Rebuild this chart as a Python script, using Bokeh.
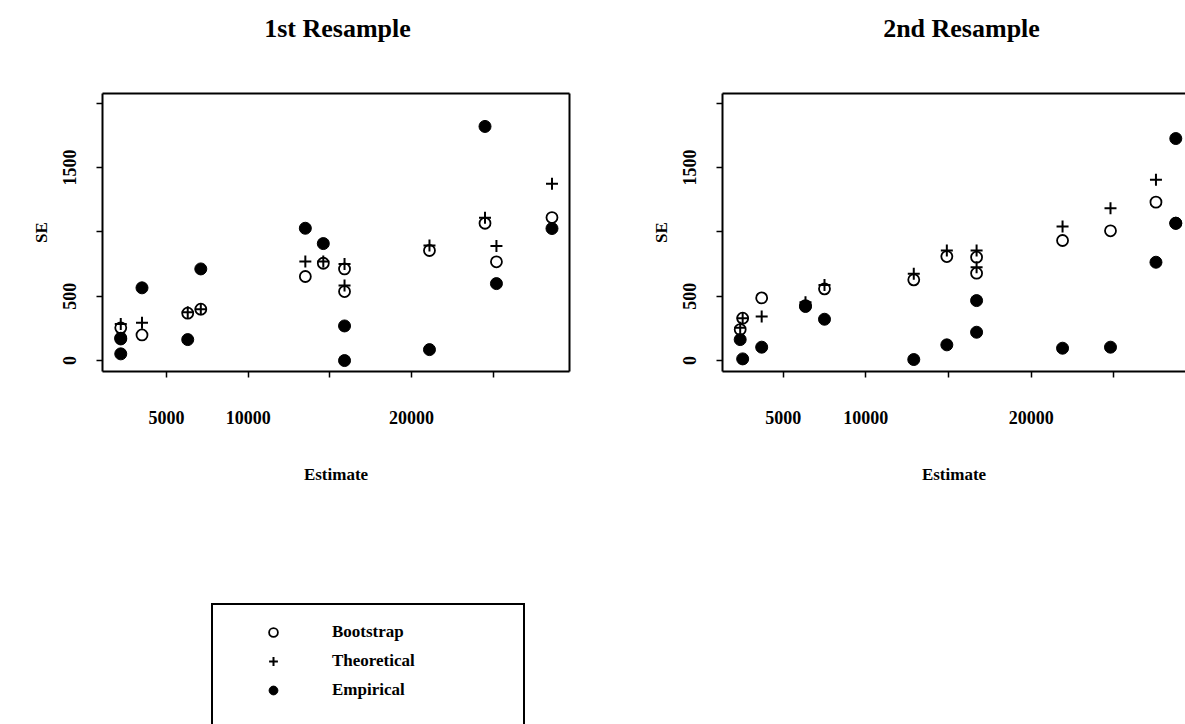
import numpy as np
from bokeh.plotting import figure
from bokeh.models import Range1d, FixedTicker, LinearAxis, Legend, LegendItem, ColumnDataSource, Label
from bokeh.layouts import column, row
from bokeh.embed import file_html
from bokeh.resources import INLINE

FONT = "Liberation Serif"

# ---------------- data ----------------
titles = ["1st Resample", "2nd Resample"]
x_label = "Estimate"
y_label = "SE"
series_names = ["Bootstrap", "Theoretical", "Empirical"]

x_ticks = [5000, 10000, 15000, 20000, 25000]
x_tick_labels = ["5000", "10000", "", "20000", ""]
y_ticks = [0, 500, 1000, 1500, 2000]
y_tick_labels = ["0", "500", "", "1500", ""]

# 1st resample: estimate and standard errors of each item
r1_estimate = [2200, 2200, 3500, 6300, 7100, 13500, 14600, 15900, 15900, 21100, 24500, 25200, 28600]
r1_bootstrap = [254, 175, 199, 368, 399, 653, 756, 712, 536, 855, 1067, 767, 1111]
r1_theoretical = [285, 175, 293, 376, 399, 769, 770, 751, 583, 894, 1109, 891, 1373]
r1_empirical = [52, 168, 565, 163, 712, 1028, 909, 269, 0, 85, 1819, 598, 1026]

# 2nd resample
r2_estimate = [2400, 2550, 3700, 6350, 7500, 12900, 14900, 16700, 16700, 21900, 24800, 27550, 28750, 28750]
r2_bootstrap = [241, 329, 487, 427, 557, 627, 808, 803, 679, 933, 1008, 1231, 1067, None]
r2_theoretical = [254, 329, 342, 453, 588, 674, 855, 855, 725, 1041, 1184, 1404, 1067, None]
r2_empirical = [163, 13, 104, 420, 321, 8, 122, 466, 220, 96, 104, 764, 1067, 1725]


def arr(v):
    return np.array([np.nan if a is None else a for a in v], dtype=float)


def blank_fig(width, height):
    f = figure(width=width, height=height, x_range=Range1d(0, 1), y_range=Range1d(0, 1),
               x_axis_type=None, y_axis_type=None, output_backend="svg", toolbar_location=None,
               min_border=0)
    f.outline_line_color = None
    f.grid.visible = False
    f.background_fill_color = "white"
    f.border_fill_color = "white"
    return f


def style_axis(ax, ticks, labels, orient, tick_standoff, label_standoff, label=None):
    ax.ticker = FixedTicker(ticks=ticks)
    ax.major_label_overrides = {t: l for t, l in zip(ticks, labels)}
    ax.major_label_text_font = FONT
    ax.major_label_text_font_style = "bold"
    ax.major_label_text_font_size = "18px"
    ax.major_label_text_color = "black"
    ax.major_label_standoff = tick_standoff
    ax.major_label_orientation = orient
    ax.axis_line_width = 2
    ax.axis_line_color = "black"
    ax.major_tick_line_width = 1.5
    ax.major_tick_line_color = "black"
    ax.major_tick_in = 0
    ax.major_tick_out = 6
    ax.minor_tick_line_color = None
    if label is not None:
        ax.axis_label = label
        ax.axis_label_text_font = FONT
        ax.axis_label_text_font_style = "bold"
        ax.axis_label_text_font_size = "17px"
        ax.axis_label_text_color = "black"
        ax.axis_label_standoff = label_standoff


def blank_axis(p, side):
    ax = LinearAxis(ticker=FixedTicker(ticks=[]), major_tick_out=0, major_tick_in=0,
                    minor_tick_out=0, minor_tick_in=0, major_label_text_font_size="0px",
                    major_label_standoff=0,
                    axis_line_width=2, axis_line_color="black")
    p.add_layout(ax, side)


def make_plot(est, boot, theo, emp, xr, width, mb_right, right_line):
    p = figure(width=width, height=440, x_range=Range1d(*xr), y_range=Range1d(-85, 2075),
               output_backend="svg", toolbar_location=None,
               min_border_left=102, min_border_right=mb_right, min_border_top=33, min_border_bottom=129)
    p.outline_line_color = None
    p.grid.visible = False
    p.background_fill_color = "white"
    p.border_fill_color = "white"
    style_axis(p.xaxis[0], x_ticks, x_tick_labels, "horizontal", 33, 38, x_label)
    style_axis(p.yaxis[0], y_ticks, y_tick_labels, "vertical", 20, 10, y_label)
    blank_axis(p, "above")
    if right_line:
        blank_axis(p, "right")
    src = ColumnDataSource(dict(x=est, b=arr(boot), t=arr(theo), e=arr(emp)))
    p.scatter("x", "b", source=src, marker="circle", size=11, fill_color=None,
              line_color="black", line_width=1.8)
    p.scatter("x", "t", source=src, marker="cross", size=12, line_color="black", line_width=2)
    p.scatter("x", "e", source=src, marker="circle", size=12, fill_color="black",
              line_color="black", line_width=1)
    return p


# title strip
p0 = blank_fig(1185, 60)
for t, tx in zip(titles, [337, 961]):
    p0.add_layout(Label(x=tx, y=32, x_units="screen", y_units="screen", text=t,
                        text_align="center", text_baseline="middle", text_font=FONT,
                        text_font_style="bold", text_font_size="26px", text_color="black"))

p1 = make_plot(r1_estimate, r1_bootstrap, r1_theoretical, r1_empirical, (1082, 29673), 620, 51, True)
p2 = make_plot(r2_estimate, r2_bootstrap, r2_theoretical, r2_empirical, (1330, 29337), 565, 0, False)

# legend panel (its glyph sources sit outside the visible range)
p3 = blank_fig(1185, 224)
e_src = ColumnDataSource(dict(x=[-10], y=[-10]))
lb = p3.scatter("x", "y", source=e_src, marker="circle", size=9, fill_color=None,
                line_color="black", line_width=1.8)
lt = p3.scatter("x", "y", source=e_src, marker="cross", size=9, line_color="black", line_width=2)
le = p3.scatter("x", "y", source=e_src, marker="circle", size=10, fill_color="black", line_color="black")
lz = p3.scatter("x", "y", source=e_src, marker="circle", size=1, fill_alpha=0, line_alpha=0)
legend = Legend(items=[LegendItem(label=series_names[0], renderers=[lb]),
                       LegendItem(label=series_names[1], renderers=[lt]),
                       LegendItem(label=series_names[2], renderers=[le]),
                       LegendItem(label=" ", renderers=[lz])],
                location=(211, -24), orientation="vertical",
                padding=16, spacing=7, glyph_width=88, glyph_height=22, label_height=22,
                label_standoff=15, label_width=175,
                label_text_font=FONT, label_text_font_style="bold", label_text_font_size="17px",
                label_text_color="black", label_text_baseline="middle",
                border_line_color="black", border_line_width=2, border_line_alpha=1,
                background_fill_color="white", background_fill_alpha=1, margin=0)
p3.add_layout(legend)

layout = column(p0, row(p1, p2), p3)
open("out.html", "w").write(file_html(layout, INLINE))
